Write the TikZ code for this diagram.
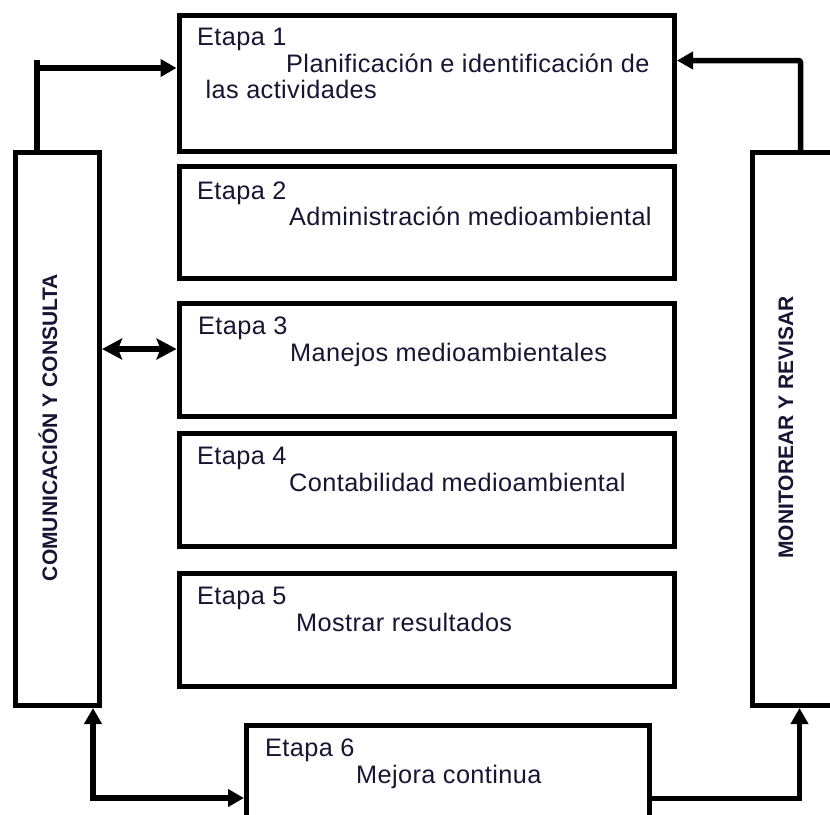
\documentclass[tikz,border=0pt]{standalone}
\usepackage{fontspec}
\setmainfont{Liberation Sans}
\newfontfamily\stagefont[LetterSpace=1.6]{Liberation Sans}
\usetikzlibrary{arrows.meta}
\definecolor{txt}{RGB}{22,22,52}
\begin{document}
\begin{tikzpicture}[x=1pt,y=-1pt,
  stage/.style={draw=black, line width=5pt, rectangle, inner sep=0pt, fill=white},
  lbl/.style={anchor=base west, inner sep=0pt, text=txt, font=\stagefont\fontsize{25.3}{30}\selectfont},
  vlbl/.style={anchor=base, inner sep=0pt, rotate=90, text=txt, font=\fontsize{21}{25}\selectfont\bfseries},
  conn/.style={line width=5.5pt, draw=black},
  >={Triangle[length=16pt,width=17pt]},
  dbl/.style={{Stealth[length=20pt,width=21pt,inset=4pt]}-{Stealth[length=20pt,width=21pt,inset=4pt]}}
]
\useasboundingbox (0,0) rectangle (830,814);
\clip (0,0) rectangle (830,814);
\fill[white] (0,0) rectangle (830,814);

% boxes
\node[stage, minimum width=495.5pt, minimum height=135.5pt] (e1) at (426.75,83.25) {};
\node[stage, minimum width=495.5pt, minimum height=112pt] (e2) at (426.75,222) {};
\node[stage, minimum width=495.5pt, minimum height=113pt] (e3) at (426.75,359.5) {};
\node[stage, minimum width=495.5pt, minimum height=112.5pt] (e4) at (426.75,489.75) {};
\node[stage, minimum width=495.5pt, minimum height=112.5pt] (e5) at (426.75,629.75) {};
\node[stage, minimum width=403pt, minimum height=154.5pt] (e6) at (448,802.75) {};
\node[stage, minimum width=84pt, minimum height=553pt] (lbox) at (57.6,429) {};
\node[stage, minimum width=147.5pt, minimum height=553pt] (rbox) at (826.25,429) {};

% texts
\node[lbl] (t1a) at (197,45) {Etapa 1};
\node[lbl] (t1b) at (286,72.7) {Planificación e identificación de};
\node[lbl] (t1c) at (205.5,98.3) {las actividades};
\node[lbl] (t2a) at (197,199.3) {Etapa 2};
\node[lbl] (t2b) at (289,225) {Administración medioambiental};
\node[lbl] (t3a) at (198,334.3) {Etapa 3};
\node[lbl] (t3b) at (290,361.7) {Manejos medioambientales};
\node[lbl] (t4a) at (197,464.3) {Etapa 4};
\node[lbl] (t4b) at (289,491) {Contabilidad medioambiental};
\node[lbl] (t5a) at (197,604.3) {Etapa 5};
\node[lbl] (t5b) at (296,631) {Mostrar resultados};
\node[lbl] (t6a) at (265,756) {Etapa 6};
\node[lbl] (t6b) at (356,783) {Mejora continua};
\node[vlbl] (lt) at (57,427.5) {COMUNICACIÓN Y CONSULTA};
\node[vlbl] (rt) at (793,427.5) {MONITOREAR Y REVISAR};

% connectors
\coordinate (tl) at (37,60);
\coordinate (tlh) at (37,68);
\draw[conn] (lbox.north -| tl) -- (tl);
\draw[conn,->] (tlh) -- (tlh -| e1.west);

\coordinate (tr) at (800.5,60.5);
\draw[conn,->,rounded corners=2pt] (rbox.north -| tr) -- (tr) -- (tr -| e1.east);

\coordinate (m3) at (140,349);
\draw[conn,dbl] (lbox.east |- m3) -- (e3.west |- m3);

\coordinate (bl) at (93,798);
\draw[conn,<->] (lbox.south -| bl) -- (bl) -- (bl -| e6.west);

\coordinate (br) at (799.5,798.5);
\draw[conn,->] (e6.east |- br) -- (br) -- (rbox.south -| br);
\end{tikzpicture}
\end{document}
